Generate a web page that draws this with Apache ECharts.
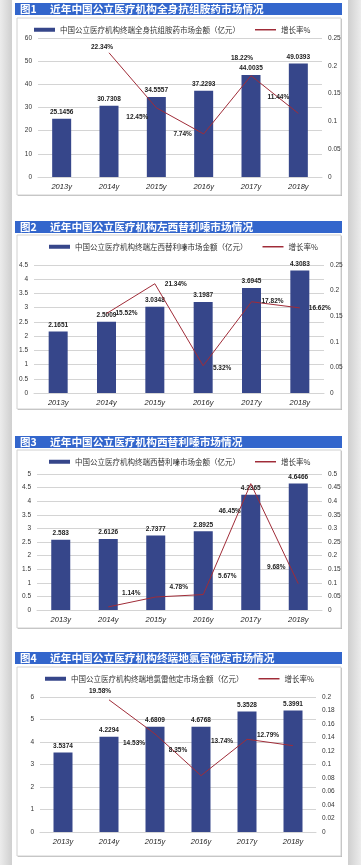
<!DOCTYPE html>
<html>
<head>
<meta charset="utf-8">
<script src="https://cdn.jsdelivr.net/npm/echarts@6/dist/echarts.min.js"></script>
<style>
html,body{margin:0;padding:0;background:#fff;}
#chart{width:361px;height:865px;}
</style>
</head>
<body>
<div id="chart"></div>
<script>
// ---------- data ----------
const categories = ['2013y', '2014y', '2015y', '2016y', '2017y', '2018y'];
const titleNums = ['图1', '图2', '图3', '图4'];
const titles = [
  '近年中国公立医疗机构全身抗组胺药市场情况',
  '近年中国公立医疗机构左西替利嗪市场情况',
  '近年中国公立医疗机构西替利嗪市场情况',
  '近年中国公立医疗机构终端地氯雷他定市场情况'
];
const barNames = [
  '中国公立医疗机构终端全身抗组胺药市场金额（亿元）',
  '中国公立医疗机构终端左西替利嗪市场金额（亿元）',
  '中国公立医疗机构终端西替利嗪市场金额（亿元）',
  '中国公立医疗机构终端地氯雷他定市场金额（亿元）'
];
const lineName = '增长率%';

const amount1 = [25.1456, 30.7308, 34.5557, 37.2293, 44.0035, 49.0393];
const rate1   = [null, 0.2234, 0.1245, 0.0774, 0.1822, 0.1144];

const amount2 = [2.1651, 2.5009, 3.0348, 3.1987, 3.6945, 4.3083];
const rate2   = [null, 0.1552, 0.2134, 0.0532, 0.1782, 0.1662];

const amount3 = [2.583, 2.6126, 2.7377, 2.8925, 4.2365, 4.6466];
const rate3   = [null, 0.0114, 0.0478, 0.0567, 0.4645, 0.0968];

const amount4 = [3.5374, 4.2294, 4.6809, 4.6768, 5.3528, 5.3991];
const rate4   = [null, 0.1958, 0.1453, 0.0835, 0.1374, 0.1279];

// left / right axis ticks
const leftMax = [60, 4.5, 5, 6];
const leftStep = [10, 0.5, 0.5, 1];
const rightMax = [0.25, 0.25, 0.5, 0.2];
const rightStep = [0.05, 0.05, 0.05, 0.02];

// ---------- styling / layout ----------
const amounts = [amount1, amount2, amount3, amount4];
const rates = [rate1, rate2, rate3, rate4];
const FONT = '"Noto Sans CJK SC", "Noto Sans", sans-serif';
const BAR_COLOR = '#36468a';
const LINE_COLOR = '#a02c38';
const GRID_COLOR = '#d4d4d4';

const grids = [
  {left: 38, top: 38, width: 284, height: 139},
  {left: 34, top: 265, width: 290, height: 128},
  {left: 37, top: 474, width: 285, height: 136},
  {left: 40, top: 697, width: 276, height: 135}
];
const titleBars = [3, 221, 436, 652];
const boxes = [[17, 18, 324, 177], [17, 235, 324, 174], [17, 450, 324, 178], [17, 667, 324, 189]];
const legendPos = [{left: 29, top: 21}, {left: 44, top: 238}, {left: 44, top: 453}, {left: 40, top: 670}];
const lineLabelOffsets = [
  [null, [-7, -6], [-19, 9], [-21, 0], [-9, -17], [-20, -16]],
  [null, [20, 0], [21, 0], [19, 2], [21, -1], [20, 0]],
  [null, [23, -14], [23, -10], [24, -18], [-21, 28], [-22, -16]],
  [null, [-9, -9], [-21, 9], [-23, -25], [-25, 2], [-25, -10]]
];

const option = {
  backgroundColor: '#fff',
  animation: false,
  textStyle: {fontFamily: FONT},
  grid: grids.map(g => Object.assign({containLabel: false}, g)),
  legend: [0, 1, 2, 3].map(k => ({
    left: legendPos[k].left, top: legendPos[k].top,
    itemWidth: 21, itemHeight: 4, itemGap: 15,
    textStyle: {fontSize: 7.5, color: '#333', fontFamily: FONT},
    data: [
      {name: barNames[k], icon: 'rect'},
      {name: lineName, icon: 'path://M0,0H20V1.4H0Z'}
    ]
  })),
  xAxis: [0, 1, 2, 3].map(k => ({
    type: 'category', gridIndex: k, data: categories,
    axisTick: {show: false},
    axisLine: {lineStyle: {color: GRID_COLOR, width: 1}},
    axisLabel: {fontSize: 7.5, fontStyle: 'italic', color: '#222', margin: 6, fontFamily: 'Liberation Sans'}
  })),
  yAxis: [].concat(...[0, 1, 2, 3].map(k => ([
    {
      type: 'value', gridIndex: k, min: 0, max: leftMax[k], interval: leftStep[k],
      axisLine: {show: false}, axisTick: {show: false},
      splitLine: {lineStyle: {color: GRID_COLOR, width: 1}},
      axisLabel: {fontSize: 6.5, color: '#333', margin: 6, fontFamily: 'Liberation Sans'}
    },
    {
      type: 'value', gridIndex: k, min: 0, max: rightMax[k], interval: rightStep[k], position: 'right',
      axisLine: {show: false}, axisTick: {show: false}, splitLine: {show: false},
      axisLabel: {fontSize: 6.5, color: '#333', margin: 6, fontFamily: 'Liberation Sans'}
    }
  ]))),
  series: [].concat(...[0, 1, 2, 3].map(k => ([
    {
      name: barNames[k], type: 'bar', xAxisIndex: k, yAxisIndex: 2 * k,
      data: amounts[k], barWidth: 19,
      itemStyle: {color: BAR_COLOR},
      label: {show: true, position: 'top', distance: 3, fontSize: 6.5, color: '#222',
              fontFamily: 'Liberation Sans', fontWeight: 'bold'}
    },
    {
      name: lineName, type: 'line', xAxisIndex: k, yAxisIndex: 2 * k + 1,
      data: rates[k].map((v, i) => v == null ? null : {
        value: v,
        label: {offset: lineLabelOffsets[k][i]}
      }),
      symbol: 'circle', symbolSize: 0.1, z: 5,
      lineStyle: {color: LINE_COLOR, width: 1},
      itemStyle: {color: LINE_COLOR},
      label: {show: true, position: 'inside', fontSize: 6.5, color: '#222',
              fontFamily: 'Liberation Sans', fontWeight: 'bold',
              formatter: p => (p.value * 100).toFixed(2) + '%'}
    }
  ]))),
  graphic: [].concat(
    [
      {type: 'rect', z: -10, shape: {x: 0, y: 0, width: 12, height: 865},
       style: {fill: new echarts.graphic.LinearGradient(0, 0, 1, 0, [{offset: 0, color: '#ececec'}, {offset: 1, color: '#cfcfcf'}])}},
      {type: 'rect', z: -10, shape: {x: 348, y: 0, width: 13, height: 865},
       style: {fill: new echarts.graphic.LinearGradient(0, 0, 1, 0, [{offset: 0, color: '#cfcfcf'}, {offset: 1, color: '#ececec'}])}}
    ],
    [].concat(...[0, 1, 2, 3].map(k => ([
      {type: 'rect', z: -5, shape: {x: 15, y: titleBars[k], width: 327, height: 12},
       style: {fill: '#3366cc'}},
      {type: 'text', z: 10, x: 20, y: titleBars[k] + 6,
       style: {text: titleNums[k], fill: '#fff', fontSize: 10.5, fontWeight: 'bold',
               fontFamily: FONT, verticalAlign: 'middle'}},
      {type: 'text', z: 10, x: 50, y: titleBars[k] + 6,
       style: {text: titles[k], fill: '#fff', fontSize: 10.7, fontWeight: 'bold',
               fontFamily: FONT, verticalAlign: 'middle'}},
      {type: 'rect', z: -6, shape: {x: boxes[k][0] + 1, y: boxes[k][1] + 1, width: boxes[k][2], height: boxes[k][3]},
       style: {fill: '#bcbcbc'}},
      {type: 'rect', z: -5, shape: {x: boxes[k][0], y: boxes[k][1], width: boxes[k][2], height: boxes[k][3]},
       style: {fill: '#fff', stroke: '#d0d0d0', lineWidth: 1}}
    ])))
  )
};

const chart = echarts.init(document.getElementById('chart'), null, {renderer: 'canvas'});
chart.setOption(option);
</script>
</body>
</html>
